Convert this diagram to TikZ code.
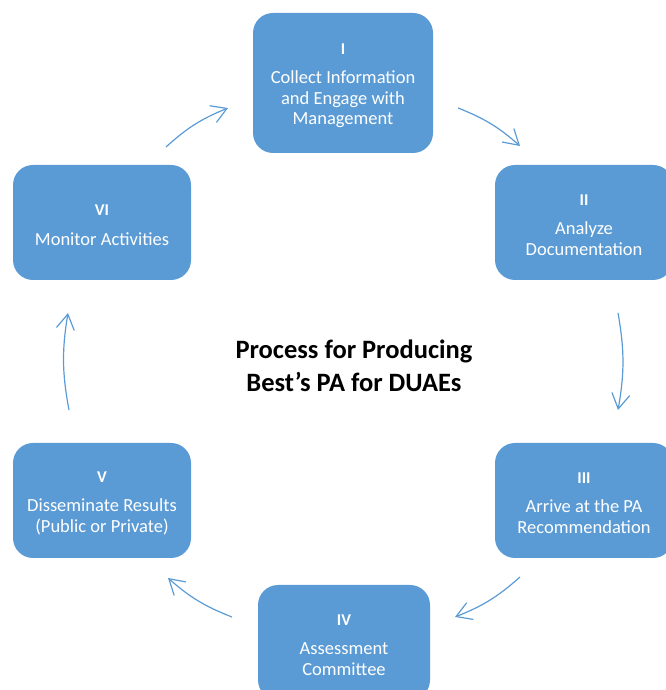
\documentclass[tikz,border=0pt]{standalone}
\usepackage{fontspec}
\setmainfont{Carlito}
\usetikzlibrary{arrows.meta}
\definecolor{boxblue}{RGB}{91,155,213}
\begin{document}
\begin{tikzpicture}[x=1pt,y=1pt,
  stepbox/.style={rectangle, rounded corners=20pt, fill=boxblue, text=white,
    inner sep=0pt, align=center, minimum width=178pt, minimum height=115pt,
    font=\fontsize{18.5}{20.5}\selectfont},
  cyc/.style={draw=boxblue, line width=1.2pt, -{Straight Barb[length=15pt,width=18pt,line width=1.2pt]}, bend left=10}]
\useasboundingbox (0,0) rectangle (665,690);
\newcommand{\romnum}[1]{{\fontsize{16.5}{20.5}\selectfont\bfseries\rule{0pt}{16pt}#1}}
% boxes
\node[stepbox, minimum width=180pt, minimum height=140pt] (b1) at (343,607)
  {\romnum{I}\\[9pt]Collect Information\\and Engage with\\Management};
\node[stepbox] (b2) at (584,467.5) {\romnum{II}\\[9pt]Analyze\\Documentation};
\node[stepbox] (b3) at (584,189.5) {\romnum{III}\\[9pt]Arrive at the PA\\Recommendation};
\node[stepbox, minimum width=172pt] (b4) at (344,47.5) {\romnum{IV}\\[9pt]Assessment\\Committee};
\node[stepbox] (b5) at (102,189.5) {\romnum{V}\\[9pt]Disseminate Results\\(Public or Private)};
\node[stepbox] (b6) at (102,467.5) {\romnum{VI}\\[9pt]Monitor Activities};
% title
\node[align=center, inner sep=0pt, font=\fontsize{26.5}{33}\selectfont\bfseries] (title) at (354,324)
  {Process for Producing\\Best’s PA for DUAEs};
% arrow end points
\coordinate (a1s) at (458,582); \coordinate (a1e) at (520,544);
\coordinate (a2s) at (618,377); \coordinate (a2e) at (618,280);
\coordinate (a3s) at (520,113); \coordinate (a3e) at (455,73);
\coordinate (a4s) at (232,73);  \coordinate (a4e) at (168,112);
\coordinate (a5s) at (69,280);  \coordinate (a5e) at (68,377);
\coordinate (a6s) at (166,543); \coordinate (a6e) at (228,582);
\draw[cyc] (a1s) to (a1e);
\draw[cyc] (a2s) to (a2e);
\draw[cyc] (a3s) to (a3e);
\draw[cyc] (a4s) to (a4e);
\draw[cyc] (a5s) to (a5e);
\draw[cyc] (a6s) to (a6e);
\end{tikzpicture}
\end{document}
